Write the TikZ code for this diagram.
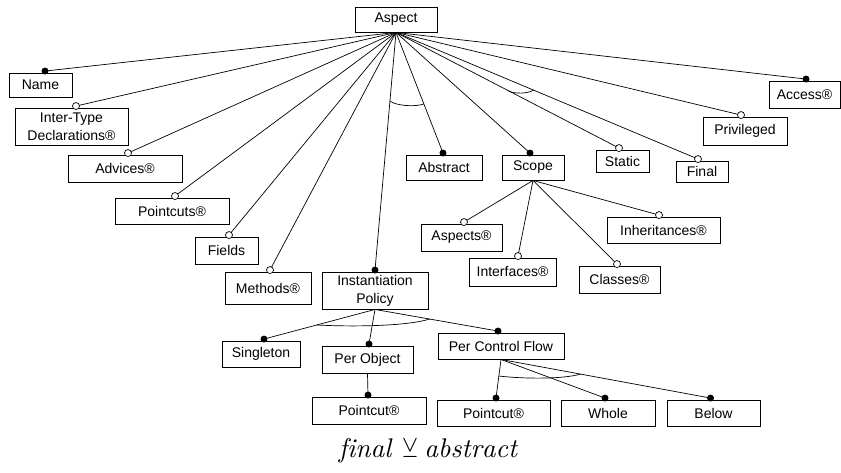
\documentclass[tikz,border=0pt]{standalone}
\usepackage{fontspec}
\usepackage{amssymb}
\usetikzlibrary{calc}
\newfontfamily\arial{Liberation Sans}
\newcommand\boxfont{\arial\fontsize{14}{18}\selectfont}
% parent, child, marker style, horizontal offset of the marker
\newcommand\featlink[4]{%
  \coordinate (#2-m) at ([xshift=#4pt,yshift=1.5pt]#2.north);
  \draw[edge] (#1.south) -- (#2-m) node[#3]{};}
\tikzset{
  feat/.style={draw, line width=0.9pt, font=\boxfont, inner sep=0pt, align=center},
  edge/.style={line width=0.7pt},
  mand/.style={circle, fill=black, inner sep=0pt, minimum size=7pt},
  opt/.style={circle, draw, fill=white, line width=0.7pt, inner sep=0pt, minimum size=7pt},
  grp/.style={line width=0.7pt}
}
\begin{document}
\begin{tikzpicture}[x=1pt,y=-1pt]
\useasboundingbox (0,0) rectangle (841,473);

% features
\node[feat, minimum width=82pt, minimum height=25pt] (aspect) at (396,19.5) {Aspect};
\node[feat, minimum width=63pt, minimum height=24pt] (name) at (40.5,85) {Name};
\node[feat, minimum width=113pt, minimum height=37pt] (itd) at (71.5,126.5) {Inter-Type\\Declarations®};
\node[feat, minimum width=114pt, minimum height=27pt] (advices) at (125,168.5) {Advices®};
\node[feat, minimum width=114pt, minimum height=26pt] (pointcuts) at (172,211) {Pointcuts®};
\node[feat, minimum width=63pt, minimum height=27pt] (fields) at (226.5,250.5) {Fields};
\node[feat, minimum width=86pt, minimum height=32pt] (methods) at (268,288) {Methods®};
\node[feat, minimum width=106pt, minimum height=37pt] (ip) at (375,290.5) {Instantiation\\Policy};
\node[feat, minimum width=76pt, minimum height=25pt] (abstract) at (444,167.5) {Abstract};
\node[feat, minimum width=62pt, minimum height=25pt] (scope) at (533,167.5) {Scope};
\node[feat, minimum width=53pt, minimum height=22pt] (static) at (622.5,161) {Static};
\node[feat, minimum width=52pt, minimum height=21pt] (final) at (702,171.5) {Final};
\node[feat, minimum width=84pt, minimum height=28pt] (privileged) at (745,131) {Privileged};
\node[feat, minimum width=71pt, minimum height=27pt] (access) at (804.5,94.5) {Access®};

\node[feat, minimum width=81pt, minimum height=27pt] (aspects) at (461.5,237.5) {Aspects®};
\node[feat, minimum width=87pt, minimum height=28pt] (interfaces) at (512.5,272) {Interfaces®};
\node[feat, minimum width=81pt, minimum height=27pt] (classes) at (619.5,279.5) {Classes®};
\node[feat, minimum width=113pt, minimum height=26pt] (inherit) at (663.5,230) {Inheritances®};

\node[feat, minimum width=78pt, minimum height=26pt] (singleton) at (261,354) {Singleton};
\node[feat, minimum width=91pt, minimum height=27pt] (perobject) at (367.5,359.5) {Per Object};
\node[feat, minimum width=126pt, minimum height=26pt] (pcf) at (501,346) {Per Control Flow};
\node[feat, minimum width=114pt, minimum height=27pt] (pcA) at (369,410.5) {Pointcut®};
\node[feat, minimum width=113pt, minimum height=26pt] (pcB) at (493.5,413) {Pointcut®};
\node[feat, minimum width=94pt, minimum height=26pt] (whole) at (608,413) {Whole};
\node[feat, minimum width=93pt, minimum height=26pt] (below) at (713.5,413) {Below};

% connectors
\featlink{aspect}{name}{mand}{4.5}
\featlink{aspect}{itd}{opt}{4.5}
\featlink{aspect}{advices}{opt}{3}
\featlink{aspect}{pointcuts}{opt}{3}
\featlink{aspect}{fields}{opt}{2.5}
\featlink{aspect}{methods}{opt}{2}
\featlink{aspect}{ip}{mand}{0}
\featlink{aspect}{abstract}{mand}{-1}
\featlink{aspect}{scope}{mand}{-3}
\featlink{aspect}{static}{opt}{-3.5}
\featlink{aspect}{final}{opt}{-4}
\featlink{aspect}{privileged}{opt}{-4}
\featlink{aspect}{access}{mand}{1.5}

\featlink{scope}{aspects}{opt}{2.5}
\featlink{scope}{interfaces}{opt}{5.5}
\featlink{scope}{classes}{opt}{-2.5}
\featlink{scope}{inherit}{opt}{-4.5}

\featlink{ip}{singleton}{mand}{3}
\featlink{ip}{perobject}{mand}{1.5}
\featlink{ip}{pcf}{mand}{-3}
\featlink{perobject}{pcA}{mand}{-1}
\featlink{pcf}{pcB}{mand}{2.5}
\featlink{pcf}{whole}{mand}{-3}
\featlink{pcf}{below}{mand}{-3}

% group arcs
\draw[grp] ($(aspect.south)!0.289!(ip-m)$) .. controls +(7,5) and +(-8,3) .. ($(aspect.south)!0.593!(abstract-m)$);
\draw[grp] ($(aspect.south)!0.506!(static-m)$) .. controls +(5,3) and +(-6,4) .. ($(aspect.south)!0.455!(final-m)$);
\draw[grp] ($(ip.south)!0.525!(singleton-m)$) .. controls +(38,2) and +(-22,7) .. ($(ip.south)!0.444!(pcf-m)$);
\draw[grp] ($(pcf.south)!0.43!(pcB-m)$) .. controls +(27,3) and +(-18,5) .. ($(pcf.south)!0.38!(below-m)$);

% constraint
\node[scale=2.7] (caption) at (428,451) {$\mathit{final}\,\veebar\mathit{abstract}$};
\end{tikzpicture}
\end{document}
